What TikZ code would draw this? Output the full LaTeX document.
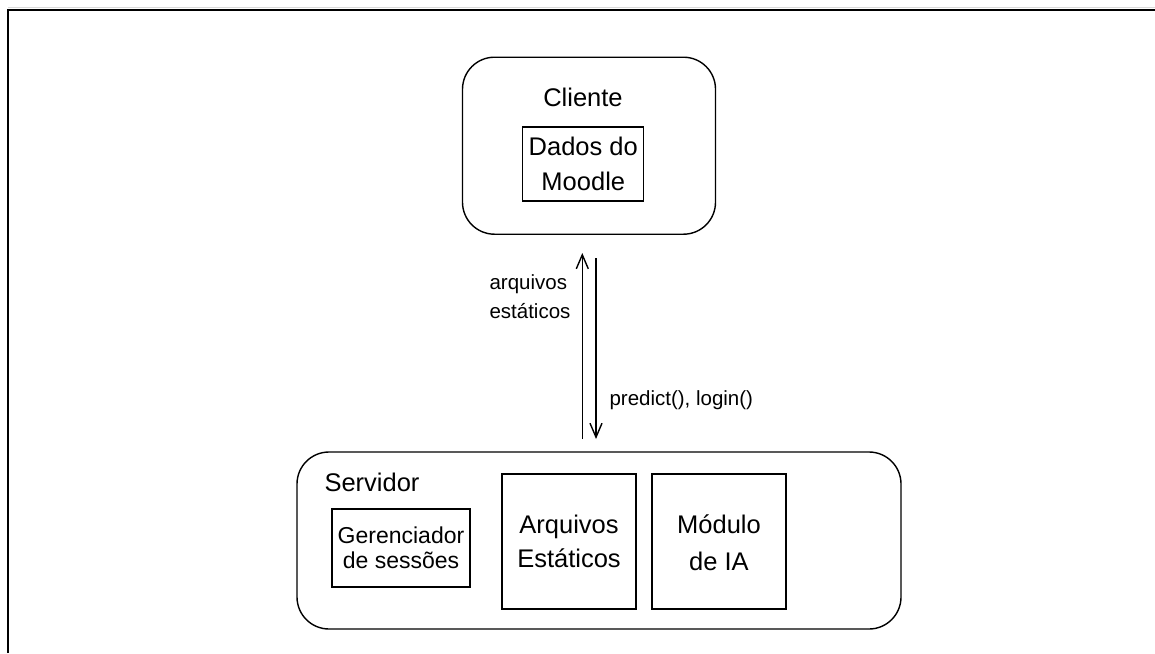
\documentclass[tikz,border=0pt]{standalone}
\usepackage{fontspec}
\setmainfont{Liberation Sans}
\usetikzlibrary{arrows.meta}
\tikzset{
  x=1pt, y=-1pt,
  outer/.style={draw, line width=1.4pt, rounded corners=32pt, inner sep=0pt},
  inner/.style={draw, line width=1.3pt, inner sep=0pt, align=center},
  big/.style={font=\fontsize{25.5}{35}\selectfont},
  small/.style={font=\fontsize{20.5}{29}\selectfont},
  flow/.style={line width=1.4pt, -{Straight Barb[length=14pt, width=12pt, line width=1.4pt]}},
}
\begin{document}
\begin{tikzpicture}
\useasboundingbox (0,0) rectangle (1155,653);
% page frame
\draw[line width=0.8pt, black!15] (8,7.5) -- (1155,7.5);
\draw[line width=2pt] (8,653) -- (8,9.5) -- (1155,9.5);

% client side
\node[outer, minimum width=253pt, minimum height=177pt] (client) at (589,145.7) {};
\node[big] (clientlbl) at (583,97) {Cliente};
\node[inner, big, minimum width=121pt, minimum height=74pt] (moodle) at (583.3,164) {Dados do\\Moodle};

% server side
\node[outer, minimum width=604pt, minimum height=177pt] (server) at (599,540.5) {};
\node[big, anchor=west] (serverlbl) at (321,482) {Servidor};
\node[inner, font=\fontsize{23}{25}\selectfont, minimum width=138pt, minimum height=78pt] (sessions) at (401,548) {Gerenciador\\de sessões};
\node[inner, minimum width=134pt, minimum height=135pt, font=\fontsize{25.5}{34}\selectfont] (static) at (569,541.5) {Arquivos\\Estáticos};
\node[inner, minimum width=134pt, minimum height=135pt, font=\fontsize{25.5}{37}\selectfont] (ia) at (719,541.5) {};
\node[font=\fontsize{25.5}{37}\selectfont, align=center, inner sep=0pt] (ialbl) at (719,543) {Módulo\\de IA};

% connector end points
\coordinate (upfrom) at (582.3,439);
\coordinate (upto) at (582.3,253);
\coordinate (downfrom) at (596,258);
\coordinate (downto) at (596,439);

\draw[flow] (upfrom) -- (upto);
\draw[flow] (downfrom) -- (downto);

\node[small, anchor=west, align=left] (staticlbl) at (486,296.5) {arquivos\\estáticos};
\node[small, anchor=west] (calllbl) at (606,400) {predict(), login()};
\end{tikzpicture}
\end{document}
